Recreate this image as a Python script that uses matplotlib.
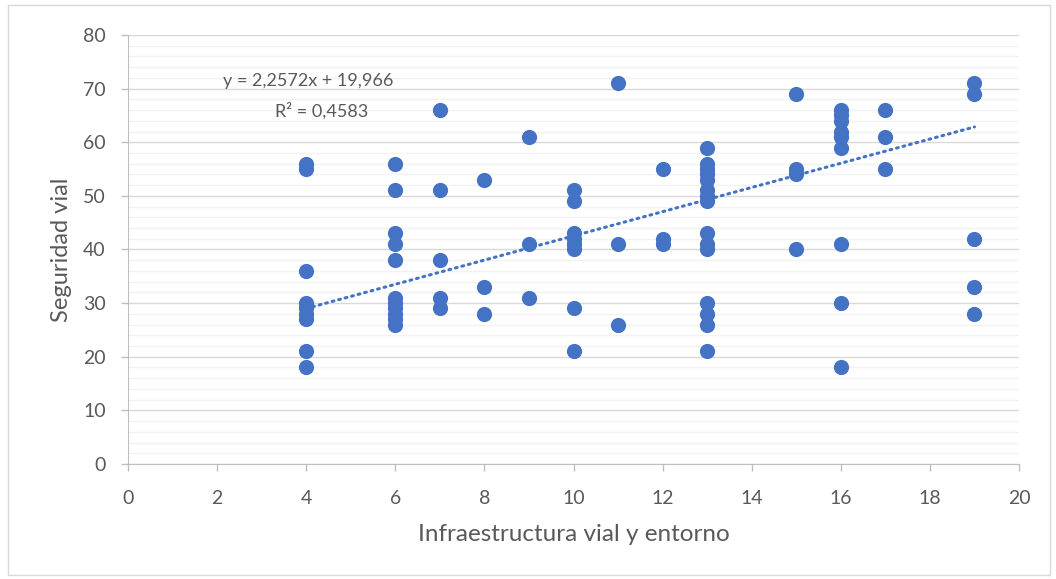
import numpy as np
import matplotlib.pyplot as plt
from matplotlib.patches import Rectangle

plt.rcParams['font.family'] = ['Lato', 'DejaVu Sans']

# data, grouped by x value
x4 = [56, 55, 36, 30, 29, 28, 27, 21, 18]
x6 = [56, 51, 43, 41, 38, 31, 30, 29, 28, 27, 26]
x7 = [66, 51, 38, 31, 29]
x8 = [53, 33, 28]
x9 = [61, 41, 31]
x10 = [51, 49, 43, 42, 41, 40, 29, 21]
x11 = [71, 41, 26]
x12 = [55, 42, 41]
x13 = [59, 56, 55, 54, 53, 51, 50, 49, 43, 41, 40, 30, 28, 26, 21]
x15 = [69, 55, 54, 40]
x16 = [66, 65, 64, 62, 61, 59, 41, 30, 18]
x17 = [66, 61, 55]
x19 = [71, 69, 42, 33, 28]

groups = {4: x4, 6: x6, 7: x7, 8: x8, 9: x9, 10: x10, 11: x11, 12: x12,
          13: x13, 15: x15, 16: x16, 17: x17, 19: x19}
infra = []
seguridad = []
for k, v in groups.items():
    infra += [k] * len(v)
    seguridad += v

slope, intercept = 2.2572, 19.966

color = '#4472C4'
txt = '#595959'
fig = plt.figure(figsize=(10.56, 5.79), dpi=100)
ax = fig.add_axes([0.1212, 0.1986, 0.8438, 0.741])

ax.scatter(infra, seguridad, s=120, color=color, zorder=3, linewidths=0)
xt = np.array([4, 19])
ax.plot(xt, slope * xt + intercept, color=color, lw=2.2, ls=(0, (0.6, 1.6)),
        dash_capstyle='round', zorder=4)

ax.set_xlim(0, 20)
ax.set_ylim(0, 80)
ax.set_xticks(range(0, 21, 2))
ax.set_yticks(range(0, 81, 10))
ax.set_yticks(range(0, 81, 2), minor=True)
ax.grid(axis='y', which='major', color='#D9D9D9', lw=1)
ax.grid(axis='y', which='minor', color='#F2F2F2', lw=1)
ax.set_axisbelow(True)
for s in ['top', 'right']:
    ax.spines[s].set_visible(False)
for s in ['left', 'bottom']:
    ax.spines[s].set_color('#BFBFBF')
ax.tick_params(which='major', colors='#BFBFBF', labelcolor=txt,
               labelsize=14, length=5, width=1)
ax.tick_params(axis='x', pad=14)
ax.tick_params(axis='y', pad=11)
ax.tick_params(which='minor', length=0)

ax.set_xlabel('Infraestructura vial y entorno', fontsize=17.5, color=txt, labelpad=12)
ax.set_ylabel('Seguridad vial', fontsize=17, color=txt, labelpad=8)

ax.text(4.05, 71.5, 'y = 2,2572x + 19,966', fontsize=13, color=txt,
        ha='center', va='center')
ax.text(4.35, 65.8, 'R² = 0,4583', fontsize=13, color=txt,
        ha='center', va='center')

fig.patches.append(Rectangle((8 / 1056, 4 / 579), 1042 / 1056, 570 / 579,
                             transform=fig.transFigure, fill=False,
                             edgecolor='#D9D9D9', lw=1))

fig.savefig('out.png', dpi=100)
